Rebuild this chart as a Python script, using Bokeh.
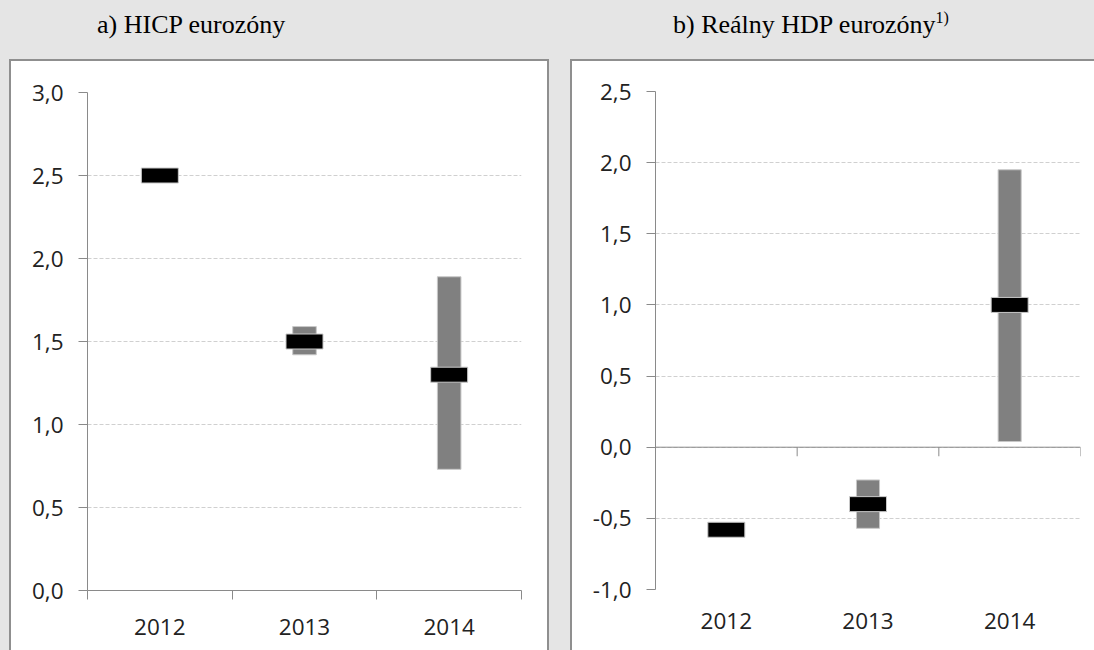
from bokeh.plotting import figure
from bokeh.layouts import row, column
from bokeh.models import Div, FixedTicker, Span
from bokeh.embed import file_html
from bokeh.resources import INLINE

# ---- data ----
years = ["2012", "2013", "2014"]

hicp_mid = [2.5, 1.5, 1.3]
hicp_low = [None, 1.42, 0.73]
hicp_high = [None, 1.59, 1.89]

gdp_mid = [-0.58, -0.4, 1.0]
gdp_low = [None, -0.57, 0.04]
gdp_high = [None, -0.23, 1.95]

ticks_a = [0.0, 0.5, 1.0, 1.5, 2.0, 2.5, 3.0]
ticks_b = [-1.0, -0.5, 0.0, 0.5, 1.0, 1.5, 2.0, 2.5]

title_a = "a) HICP eurozóny"
title_b = "b) Reálny HDP eurozóny"
title_b_sup = "1)"

FONT = "Open Sans"
LABEL_SIZE = "22.5px"
TEXT_COL = "#222222"
AXIS_COL = "#8a8a8a"
GRID_COL = "#d0d0d0"
BORDER_COL = "#8f8f8f"
BG = "#e5e5e5"


def fmt(v):
    return f"{v:.1f}".replace(".", ",")


def make_panel(mid, low, high, ticks, width, height, borders, axis_at_zero):
    n = len(years)
    xs = [i + 0.5 for i in range(n)]
    p = figure(width=width, height=height, x_range=(0, n), y_range=(ticks[0], ticks[-1]),
               output_backend="svg", toolbar_location=None,
               min_border_left=borders[0], min_border_right=borders[1],
               min_border_top=borders[2], min_border_bottom=borders[3],
               background_fill_color="white", border_fill_color="white")
    p.outline_line_color = None
    p.outline_line_alpha = 0

    # grid
    p.xgrid.grid_line_color = None
    p.xgrid.minor_grid_line_color = None
    p.xgrid.visible = False
    p.ygrid.ticker = FixedTicker(ticks=ticks)
    p.ygrid.grid_line_color = GRID_COL
    p.ygrid.grid_line_dash = "4 2"
    p.ygrid.grid_line_width = 1

    # y axis
    ya = p.yaxis[0]
    ya.ticker = FixedTicker(ticks=ticks)
    ya.major_label_overrides = {t: fmt(t) for t in ticks}
    ya.axis_line_color = AXIS_COL
    ya.major_tick_line_color = AXIS_COL
    ya.major_tick_out = 9
    ya.major_tick_in = 0
    ya.minor_tick_line_color = None
    ya.major_label_standoff = 15
    ya.major_label_text_font = FONT
    ya.major_label_text_font_size = LABEL_SIZE
    ya.major_label_text_color = TEXT_COL

    # x axis
    xa = p.xaxis[0]
    xa.ticker = FixedTicker(ticks=xs, minor_ticks=list(range(n + 1)))
    xa.major_label_overrides = {x: y for x, y in zip(xs, years)}
    xa.major_tick_line_color = None
    xa.major_tick_out = 0
    xa.major_tick_in = 0
    xa.major_label_standoff = 19
    xa.major_label_text_font = FONT
    xa.major_label_text_font_size = LABEL_SIZE
    xa.major_label_text_color = TEXT_COL
    if axis_at_zero:
        xa.axis_line_color = None
        xa.minor_tick_line_color = None
        p.add_layout(Span(location=0, dimension="width", line_color=AXIS_COL, line_width=1))
        bnd = list(range(n + 1))
        tick_len = (ticks[-1] - ticks[0]) * 9.0 / (height - 2 - borders[2] - borders[3])
        p.segment(x0=bnd, y0=[0] * len(bnd), x1=bnd, y1=[-tick_len] * len(bnd),
                  line_color=AXIS_COL, line_width=1)
    else:
        xa.axis_line_color = AXIS_COL
        xa.minor_tick_line_color = AXIS_COL
        xa.minor_tick_out = 9
        xa.minor_tick_in = 0

    # range bars
    rx = [x for x, lo in zip(xs, low) if lo is not None]
    rlo = [lo for lo in low if lo is not None]
    rhi = [hi for hi in high if hi is not None]
    p.vbar(x=rx, width=0.163, bottom=rlo, top=rhi, fill_color="#808080",
           line_color="#c8c8c8", line_width=1)
    # point estimates
    p.rect(x=xs, y=mid, width=37, height=15, width_units="screen", height_units="screen",
           fill_color="black", line_color="#c8c8c8", line_width=1)
    return p


pa = make_panel(hicp_mid, hicp_low, hicp_high, ticks_a, 540, 591, (76, 30, 31, 62), False)
pa.styles = {"border-left": f"2px solid {BORDER_COL}", "border-top": f"2px solid {BORDER_COL}",
             "border-right": f"2px solid {BORDER_COL}", "background-color": "white"}

pb = make_panel(gdp_mid, gdp_low, gdp_high, ticks_b, 524, 591, (83, 16, 30, 63), True)
pb.styles = {"border-left": f"2px solid {BORDER_COL}", "border-top": f"2px solid {BORDER_COL}",
             "background-color": "white"}

title_style = "font-family:'Liberation Serif';font-size:26px;line-height:1;color:#000;white-space:nowrap;"
da = Div(text=f"<div style=\"{title_style}padding-top:12px;padding-left:88px;\">{title_a}</div>",
         width=540, height=59, margin=0)
db = Div(text=f"<div style=\"{title_style}padding-top:12px;padding-left:103px;\">{title_b}"
              f"<sup style='font-size:16px;line-height:0;'>{title_b_sup}</sup></div>",
         width=524, height=59, margin=0)

ca = column(da, pa, spacing=0, margin=(0, 0, 0, 9))
cb = column(db, pb, spacing=0, margin=0)
layout = row(ca, cb, spacing=21, margin=0)

html = file_html(layout, INLINE)
css = f"<style>html, body {{ background-color: {BG} !important; overflow: hidden; }}</style>"
html = html.replace("</head>", css + "</head>", 1)
open("out.html", "w").write(html)
